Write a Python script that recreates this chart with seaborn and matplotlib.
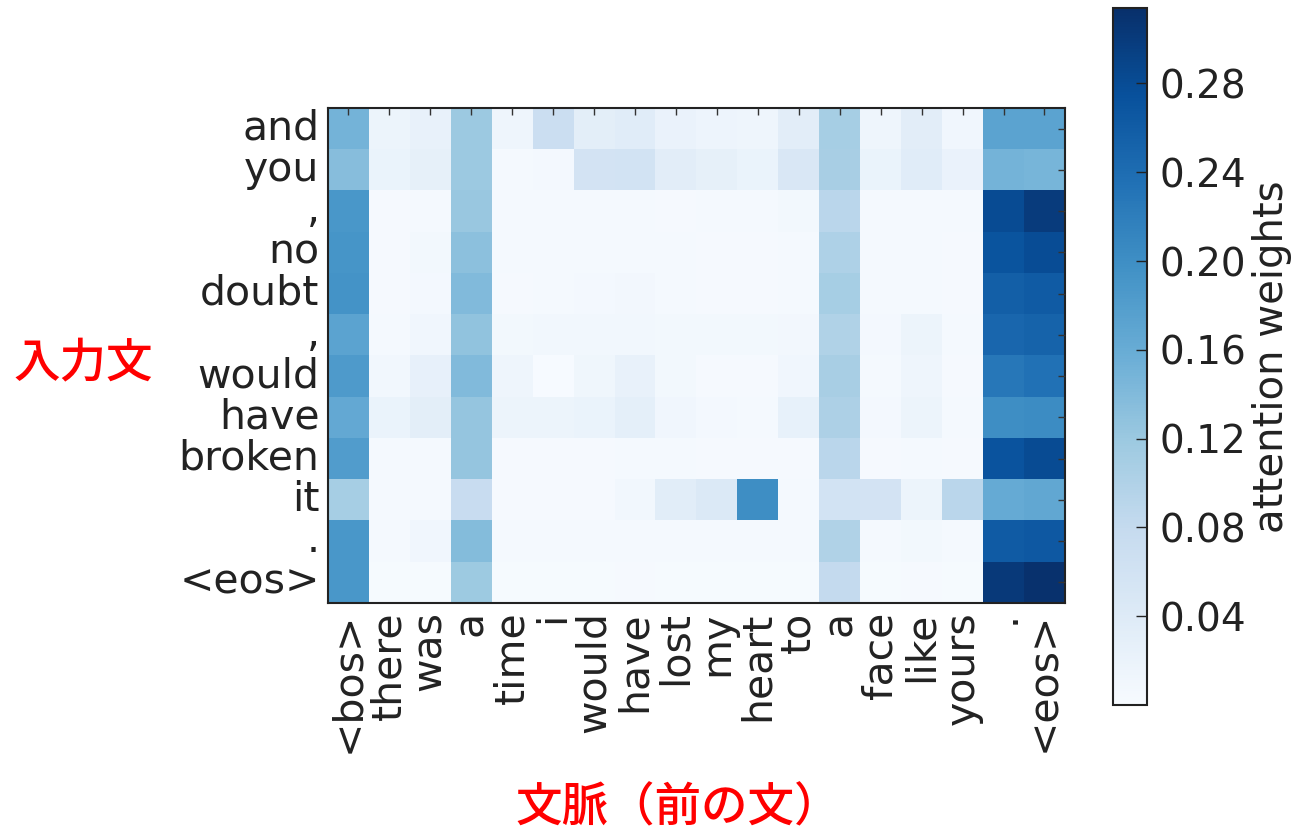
import numpy as np
import pandas as pd
import matplotlib
matplotlib.use("Agg")
import matplotlib.pyplot as plt
import seaborn as sns

# Context sentence tokens (columns) and input sentence tokens (rows)
context_tokens = ["<bos>", "there", "was", "a", "time", "i", "would", "have", "lost",
                  "my", "heart", "to", "a", "face", "like", "yours", ".", "<eos>"]
input_tokens = ["and", "you", ",", "no", "doubt", ",", "would", "have", "broken",
                "it", ".", "<eos>"]

# Attention weights, one list per input token
w_and    = [0.150, 0.018, 0.024, 0.120, 0.015, 0.070, 0.032, 0.036, 0.022, 0.016, 0.014, 0.034, 0.110, 0.014, 0.034, 0.012, 0.172, 0.172]
w_you    = [0.135, 0.020, 0.028, 0.120, 0.005, 0.007, 0.058, 0.060, 0.034, 0.028, 0.020, 0.048, 0.108, 0.020, 0.036, 0.022, 0.150, 0.148]
w_comma1 = [0.190, 0.004, 0.005, 0.122, 0.005, 0.006, 0.005, 0.005, 0.004, 0.005, 0.006, 0.008, 0.090, 0.005, 0.006, 0.005, 0.282, 0.300]
w_no     = [0.192, 0.004, 0.008, 0.132, 0.005, 0.006, 0.006, 0.006, 0.005, 0.004, 0.004, 0.005, 0.102, 0.005, 0.005, 0.004, 0.270, 0.280]
w_doubt  = [0.195, 0.004, 0.007, 0.140, 0.004, 0.006, 0.007, 0.009, 0.006, 0.004, 0.004, 0.005, 0.110, 0.005, 0.006, 0.004, 0.257, 0.262]
w_comma2 = [0.172, 0.006, 0.012, 0.128, 0.008, 0.010, 0.010, 0.010, 0.008, 0.008, 0.008, 0.009, 0.100, 0.007, 0.018, 0.005, 0.248, 0.252]
w_would  = [0.185, 0.010, 0.026, 0.140, 0.014, 0.002, 0.013, 0.024, 0.008, 0.004, 0.004, 0.012, 0.108, 0.005, 0.015, 0.004, 0.228, 0.235]
w_have   = [0.165, 0.020, 0.032, 0.125, 0.018, 0.018, 0.020, 0.030, 0.012, 0.007, 0.005, 0.025, 0.104, 0.007, 0.018, 0.005, 0.200, 0.203]
w_broken = [0.182, 0.005, 0.005, 0.125, 0.004, 0.004, 0.004, 0.005, 0.005, 0.004, 0.004, 0.004, 0.090, 0.004, 0.005, 0.004, 0.272, 0.282]
w_it     = [0.110, 0.005, 0.006, 0.075, 0.004, 0.004, 0.004, 0.010, 0.035, 0.045, 0.200, 0.005, 0.060, 0.058, 0.018, 0.090, 0.162, 0.166]
w_period = [0.190, 0.005, 0.012, 0.138, 0.005, 0.005, 0.005, 0.005, 0.005, 0.005, 0.005, 0.006, 0.100, 0.005, 0.008, 0.005, 0.262, 0.265]
w_eos    = [0.190, 0.003, 0.003, 0.118, 0.003, 0.003, 0.003, 0.004, 0.003, 0.003, 0.003, 0.003, 0.080, 0.003, 0.004, 0.003, 0.302, 0.312]

cbar_ticks = [0.04, 0.08, 0.12, 0.16, 0.20, 0.24, 0.28]

weights = np.array([w_and, w_you, w_comma1, w_no, w_doubt, w_comma2, w_would,
                    w_have, w_broken, w_it, w_period, w_eos])

sns.set_style("white")
plt.rcParams["font.family"] = ["DejaVu Sans"]

fig = plt.figure(figsize=(12.96, 8.34), dpi=100)
ax = fig.add_axes([0.253, 0.277, 0.5687, 0.5935])
cax = fig.add_axes([0.8588, 0.1547, 0.0262, 0.8357])

sns.heatmap(weights, ax=ax, cbar_ax=cax, cmap="Blues", vmin=0.0, vmax=0.314,
            xticklabels=context_tokens, yticklabels=input_tokens,
            cbar_kws={"ticks": cbar_ticks, "format": "%.2f"})

# draw tick marks above the colour cells
ax.set_axisbelow(False)
cax.set_axisbelow(False)

ax.tick_params(axis="both", direction="in", length=5, width=1, color="#333333",
               top=True, right=True, labelcolor="#222222", pad=6)
ax.tick_params(labeltop=False, labelright=False)
ax.set_xticklabels(context_tokens, rotation=90, fontsize=29.5)
ax.set_yticklabels(input_tokens, rotation=0, fontsize=29.5)
for side in ax.spines.values():
    side.set_visible(True)
    side.set_color("#222222")
    side.set_linewidth(1.5)

cbar = ax.collections[0].colorbar
cbar.outline.set_visible(True)
cbar.outline.set_edgecolor("#222222")
cbar.outline.set_linewidth(1.5)
cax.tick_params(direction="in", length=8, width=1, labelsize=28, colors="#222222", pad=9)
cbar.set_label("attention weights", fontsize=29, color="#222222", labelpad=4)

jp = ["Noto Sans CJK JP", "DejaVu Sans"]
fig.text(0.064, 0.565, "入力文", color="red", fontsize=33.5, fontweight="medium",
         family=jp, ha="center", va="center")
fig.text(0.5235, 0.031, "文脈（前の文）", color="red", fontsize=33.5, fontweight="medium",
         family=jp, ha="center", va="center")

fig.savefig("out.png", dpi=100)
